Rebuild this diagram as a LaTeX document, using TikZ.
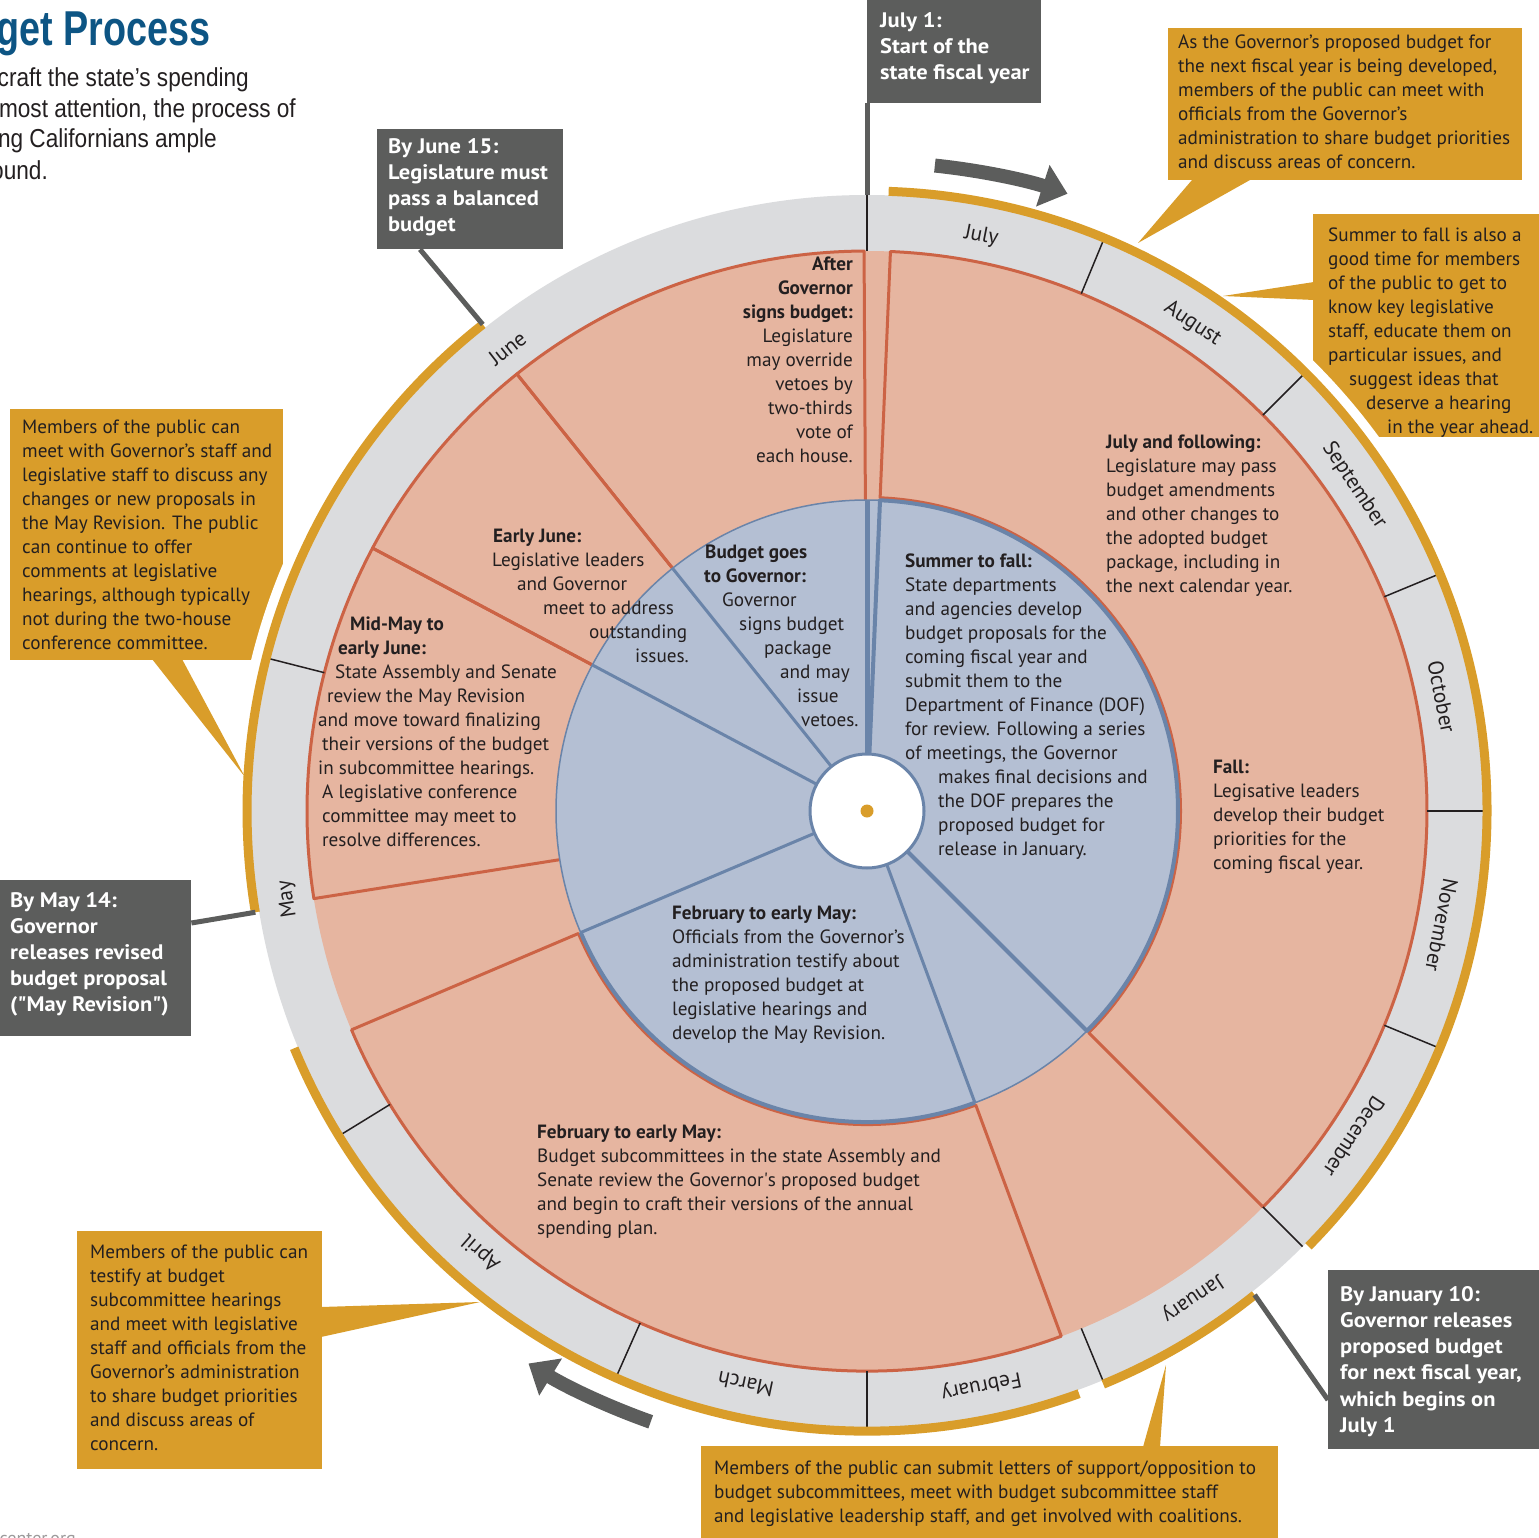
\documentclass[tikz,border=0pt]{standalone}
\usepackage{fontspec}
\setmainfont{PT Sans}
\newfontfamily\headfont[FakeStretch=0.77]{Liberation Sans}
\newfontfamily\introfont[FakeStretch=0.87]{Liberation Sans}
\newfontfamily\tagfont[FakeStretch=1.07]{PT Sans}
\usetikzlibrary{arrows.meta,calc}
\definecolor{ringgray}{HTML}{DBDCDE}
\definecolor{pinkfill}{HTML}{E6B5A0}
\definecolor{rust}{HTML}{CC6345}
\definecolor{bluefill}{HTML}{B4BFD3}
\definecolor{blueline}{HTML}{6A84A9}
\definecolor{gold}{HTML}{D99D2A}
\definecolor{slate}{HTML}{5C5D5C}
\definecolor{ink}{HTML}{231F20}
\definecolor{titleblue}{HTML}{0D5584}
\newcommand\bodytxt{\fontsize{19.2}{24}\selectfont}
\newcommand\tagtxt{\tagfont\fontsize{21}{26.2}\selectfont\bfseries}

\begin{document}
\begin{tikzpicture}[x=1pt,y=1pt,
  goldpanel/.style={fill=gold,inner sep=0pt,anchor=north west},
  tagpanel/.style={fill=slate,inner sep=0pt,anchor=north west},
  sectxt/.style={text=ink,font=\bodytxt,align=left,inner sep=0pt,anchor=north west},
  tagtext/.style={text=white,font=\tagtxt,align=left,inner sep=0pt,anchor=north west},
  introline/.style={anchor=base east,inner sep=0pt,text=ink,font=\introfont\fontsize{26}{31}\selectfont},
  monthlbl/.style={text=ink,font=\fontsize{21.5}{24}\selectfont,inner sep=0pt},
  pointer/.style={slate,line width=5pt},
  rustline/.style={rust,line width=3pt,line join=round},
  blueedge/.style={blueline,line width=3pt},
  goldarc/.style={gold,line width=9pt},
  turn/.style={slate,line width=14pt,-{Triangle[length=26pt,width=42pt]}}]
  \useasboundingbox (0,0) rectangle (1539,-1538);
  \clip (0,0) rectangle (1539,-1538);
  \def\rHole{57}
  \def\rBlue{311}
  \def\rPink{560}
  \def\rRing{616}
  \def\rGold{620}

  % heading, cut by the page edge
  \node[anchor=base west,inner sep=0pt,text=titleblue,font=\headfont\bfseries\fontsize{49}{49}\selectfont] (title) at (-4,-46) {get Process};
  \node[introline] (introA) at (249,-87) {craft the state’s spending};
  \node[introline] (introB) at (296,-118) {most attention, the process of};
  \node[introline] (introC) at (217,-148) {ing Californians ample};
  \node[introline] (introD) at (48,-180) {ound.};
  \node[anchor=north east,inner sep=0pt,text=ink!45,font=\fontsize{18}{20}\selectfont] (site) at (76,-1533) {center.org};

  % public input panels
  \node[goldpanel,minimum width=354pt,minimum height=152pt] (callSummer) at (1168,-28) {};
  \node[goldpanel,minimum width=230pt,minimum height=223pt] (callStaff) at (1313,-214) {};
  \node[goldpanel,minimum width=273pt,minimum height=251pt] (callMay) at (10,-409) {};
  \node[goldpanel,minimum width=245pt,minimum height=238pt] (callSpring) at (77,-1231) {};
  \node[goldpanel,minimum width=577pt,minimum height=96pt] (callLetters) at (701,-1446) {};

  \begin{scope}[shift={(867,-811)}]
    \fill[white] (0,0) circle (634);
  \end{scope}

  \fill[gold] (1192,-180) -- (1138,-243) -- (1250,-180) -- cycle;
  \fill[gold] (1314,-282) -- (1223,-296) -- (1314,-300) -- cycle;
  \fill[gold] (152,-659) -- (245,-777) -- (182,-659) -- cycle;
  \fill[gold] (321,-1307) -- (480,-1302) -- (321,-1337) -- cycle;
  \fill[gold] (1143,-1447) -- (1166,-1365) -- (1160,-1447) -- cycle;

  \begin{scope}[shift={(867,-811)}]
    \fill[ringgray] (0,0) circle (\rRing);
    \fill[pinkfill] (0,0) circle (\rPink);
    \draw[rustline] (87.6:313.5) -- (87.6:\rPink) arc (87.6:-45:\rPink) -- (-45:313.5) arc (-45:87.6:313.5) -- cycle;
    \draw[rustline] (203:313.5) -- (203:\rPink) arc (203:290.3:\rPink) -- (290.3:313.5) arc (290.3:203:313.5) -- cycle;
    \foreach \a/\b in {90.3/128.7,128.7/152,152/189}
      \draw[rustline] (\a:\rBlue) -- (\a:\rPink) arc (\a:\b:\rPink) -- (\b:\rBlue);

    \fill[bluefill] (0,0) circle (\rBlue);
    \draw[blueline,line width=1.5pt] (0,0) circle (\rBlue);
    \draw[blueline,line width=4pt,line join=round] (87.6:\rHole) -- (87.6:\rBlue) arc (87.6:-45:\rBlue) -- (-45:\rHole);
    \draw[blueline,line width=4pt] (203:\rBlue) arc (203:290.3:\rBlue);
    \foreach \a in {128.7,152,203,290.3}
      \draw[blueedge] (\a:\rHole) -- (\a:\rBlue);
    \draw[blueline,line width=5pt] (90:\rHole) -- (90:\rBlue);
    \filldraw[fill=white,draw=blueline,line width=3pt] (0,0) circle (\rHole);
    \fill[gold] (0,0) circle (6.5);

    % month ticks and names
    \foreach \a in {90,67.5,45,22.5,0,-22.5,-45,-67.5,-90,-113.9,-148.4,165.7}
      \draw[ink,line width=1.5pt] (\a:\rPink) -- (\a:\rRing);
    \foreach \m/\a in {July/78.75,August/56.25,September/33.75,October/11.25,November/-11.25,December/-33.75,January/-56.25,February/-78.75,March/-101.95,April/-131.15,May/-171.35,June/127.85}
      \node[monthlbl,rotate=\a-90] (m\m) at (\a:586) {\m};

    \draw[goldarc] (88:\rGold) arc (88:-44.6:\rGold);
    \draw[goldarc] (-51.3:\rGold) arc (-51.3:-67.6:\rGold);
    \draw[goldarc] (-70:\rGold) arc (-70:-157.5:\rGold);
    \draw[goldarc] (-170.6:\rGold) arc (-170.6:-231.7:\rGold);

    \coordinate (julyPt) at (90:\rRing);
    \coordinate (junePt) at (128.3:\rGold);
    \coordinate (mayPt) at (-170.6:\rGold);
    \coordinate (janPt) at (-51.3:\rGold);

    \draw[turn] (84:649) arc (84:72:649);
    \draw[turn] (-109.5:648) arc (-109.5:-121.5:648);
  \end{scope}

  % key dates
  \node[tagpanel,minimum width=174pt,minimum height=106pt] (tagJuly) at (867,3) {};
  \node[tagpanel,minimum width=186pt,minimum height=120pt] (tagJune) at (377,-129) {};
  \node[tagpanel,minimum width=196pt,minimum height=156pt] (tagMay) at (-5,-880) {};
  \node[tagpanel,minimum width=215pt,minimum height=179pt] (tagJan) at (1328,-1270) {};
  \draw[pointer] (julyPt) -- (julyPt |- tagJuly.south);
  \draw[pointer] ($(tagJune.south west)+(43,0)$) -- (junePt);
  \draw[pointer] ($(tagMay.north east)+(0,-43)$) -- (mayPt);
  \draw[pointer] (janPt) -- ($(tagJan.north west)+(0,-130)$);

  \node[tagtext] (tagJulyTxt) at (880,-12) {July 1:\\Start of the\\state fiscal year};
  \node[tagtext] (tagJuneTxt) at (388,-138) {By June 15:\\Legislature must\\pass a balanced\\budget};
  \node[tagtext] (tagMayTxt) at (10,-892) {By May 14:\\Governor\\releases revised\\budget proposal\\(\char34 May Revision\char34)};
  \node[tagtext] (tagJanTxt) at (1340,-1286) {By January 10:\\Governor releases\\proposed budget\\for next fiscal year,\\which begins on\\July 1};

  \node[sectxt] (callSummerTxt) at (1178,-35) {As the Governor’s proposed budget for\\the next fiscal year is being developed,\\members of the public can meet with\\officials from the Governor’s\\administration to share budget priorities\\and discuss areas of concern.};
  \node[sectxt] (callStaffTxt) at (1328,-228) {Summer to fall is also a\\good time for members\\of the public to get to\\know key legislative\\staff, educate them on\\particular issues, and\\\hspace*{21pt}suggest ideas that\\\hspace*{38pt}deserve a hearing\\\hspace*{59pt}in the year ahead.};
  \node[sectxt] (callMayTxt) at (22,-420) {Members of the public can\\meet with Governor’s staff and\\legislative staff to discuss any\\changes or new proposals in\\the May Revision. The public\\can continue to offer\\comments at legislative\\hearings, although typically\\not during the two-house\\conference committee.};
  \node[sectxt] (callSpringTxt) at (90,-1245) {Members of the public can\\testify at budget\\subcommittee hearings\\and meet with legislative\\staff and officials from the\\Governor’s administration\\to share budget priorities\\and discuss areas of\\concern.};
  \node[sectxt] (callLettersTxt) at (714,-1461) {Members of the public can submit letters of support/opposition to\\budget subcommittees, meet with budget subcommittee staff\\and legislative leadership staff, and get involved with coalitions.};

  % wheel texts
  \node[sectxt,align=right,anchor=north east] (afterSign) at (853,-257) {\textbf{After}\\\textbf{Governor}\\\textbf{signs budget:}\\Legislature\\may override\\vetoes by\\two-thirds\\vote of\\each house.};
  \node[sectxt] (earlyJune) at (492,-529) {\hspace*{1pt}\textbf{Early June:}\\Legislative leaders\\\hspace*{25pt}and Governor\\\hspace*{51pt}meet to address\\\hspace*{97pt}outstanding\\\hspace*{143pt}issues.};
  \node[sectxt] (midMay) at (318,-617) {\hspace*{32pt}\textbf{Mid-May to}\\\hspace*{20pt}\textbf{early June:}\\\hspace*{17pt}State Assembly and Senate\\\hspace*{9pt}review the May Revision\\and move toward finalizing\\\hspace*{4pt}their versions of the budget\\in subcommittee hearings.\\\hspace*{4pt}A legislative conference\\\hspace*{4pt}committee may meet to\\\hspace*{4pt}resolve differences.};
  \node[sectxt] (toGovernor) at (704,-545) {\hspace*{1pt}\textbf{Budget goes}\\\textbf{to Governor:}\\\hspace*{18pt}Governor\\\hspace*{35pt}signs budget\\\hspace*{60pt}package\\\hspace*{76pt}and may\\\hspace*{93pt}issue\\\hspace*{97pt}vetoes.};
  \node[sectxt] (summerFall) at (905,-554) {\textbf{Summer to fall:}\\State departments\\and agencies develop\\budget proposals for the\\coming fiscal year and\\submit them to the\\Department of Finance (DOF)\\for review. Following a series\\of meetings, the Governor\\\hspace*{33pt}makes final decisions and\\\hspace*{33pt}the DOF prepares the\\\hspace*{33pt}proposed budget for\\\hspace*{33pt}release in January.};
  \node[sectxt] (julyOn) at (1106,-435) {\textbf{July and following:}\\Legislature may pass\\budget amendments\\and other changes to\\the adopted budget\\package, including in\\the next calendar year.};
  \node[sectxt] (fall) at (1213,-760) {\textbf{Fall:}\\Legisative leaders\\develop their budget\\priorities for the\\coming fiscal year.};
  \node[sectxt] (febBlue) at (672,-906) {\textbf{February to early May:}\\Officials from the Governor’s\\administration testify about\\the proposed budget at\\legislative hearings and\\develop the May Revision.};
  \node[sectxt] (febPink) at (537,-1125) {\textbf{February to early May:}\\Budget subcommittees in the state Assembly and\\Senate review the Governor\textquotesingle s proposed budget\\and begin to craft their versions of the annual\\spending plan.};
\end{tikzpicture}
\end{document}
